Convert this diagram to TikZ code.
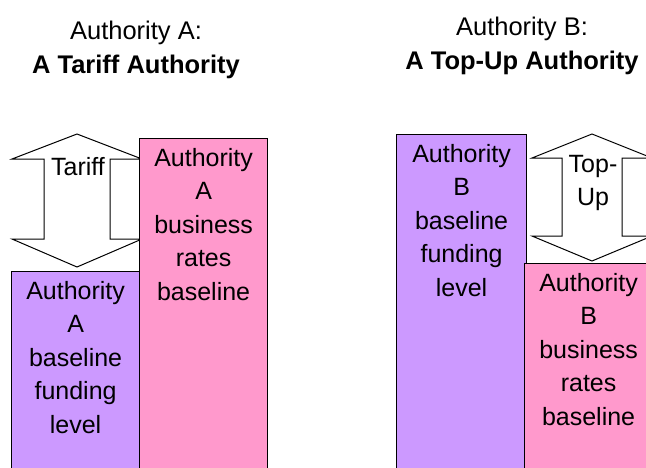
\documentclass[tikz,border=0pt]{standalone}
\usepackage{fontspec}
\setmainfont{Liberation Sans}
\usetikzlibrary{positioning}
\definecolor{lilac}{HTML}{CC99FF}
\definecolor{rosepink}{HTML}{FF99CC}

\begin{document}
\begin{tikzpicture}[x=1pt, y=-1pt, every node/.style={font=\fontsize{25}{33.5}\selectfont, inner sep=0pt}]

		% Fix the page size and cut off what runs past it
		\useasboundingbox (0,0) rectangle (646,467);
		\clip (0,0) rectangle (646,467);

		% Define styles for the bars, their texts and the arrows
		\tikzset{
			bar/.style={draw, line width=1.2pt, anchor=north west, minimum width=128pt, minimum height=350pt},
			bar text/.style={below=10pt, align=center},
			title/.style={anchor=north, align=center, font=\fontsize{25.5}{34.4}\selectfont},
			swap arrow/.style={draw, line width=1pt, fill=white, line join=miter}
		};

		% Titles
		\node[title] (titleA) at (136,20.7) {Authority A:\\\textbf{A Tariff Authority}};
		\node[title] (titleB) at (522,16.7) {Authority B:\\\textbf{A Top-Up Authority}};

		% Authority A: baseline funding level
		\node[bar, fill=lilac] (fundA) at (11,271) {};
		\node[bar text] (fundAtext) at (fundA.north) {Authority\\A\\baseline\\funding\\level};

		% Authority A: tariff arrow
		\draw[swap arrow] (77,134) -- (142,159) -- (110,159) -- (110,239) -- (142,239) -- (77,267)
			-- (12,239) -- (44,239) -- (44,159) -- (12,159) -- cycle;
		\node[anchor=base] (tariff) at (78,175) {Tariff};

		% Authority A: business rates baseline
		\node[bar, fill=rosepink] (ratesA) at (139,138) {};
		\node[bar text] (ratesAtext) at (ratesA.north) {Authority\\A\\business\\rates\\baseline};

		% Authority B: baseline funding level
		\node[bar, fill=lilac, minimum width=130pt] (fundB) at (396,134) {};
		\node[bar text] (fundBtext) at (fundB.north) {Authority\\B\\baseline\\funding\\level};

		% Authority B: top-up arrow
		\draw[swap arrow] (592,134) -- (652,158) -- (622,158) -- (622,236) -- (652,236) -- (592,261)
			-- (532,236) -- (562,236) -- (562,158) -- (532,158) -- cycle;
		\node[anchor=north, align=center] (topup) at (593,155) {Top-\\Up};

		% Authority B: business rates baseline
		\node[bar, fill=rosepink] (ratesB) at (524,263) {};
		\node[bar text] (ratesBtext) at (ratesB.north) {Authority\\B\\business\\rates\\baseline};
	\end{tikzpicture}
\end{document}
